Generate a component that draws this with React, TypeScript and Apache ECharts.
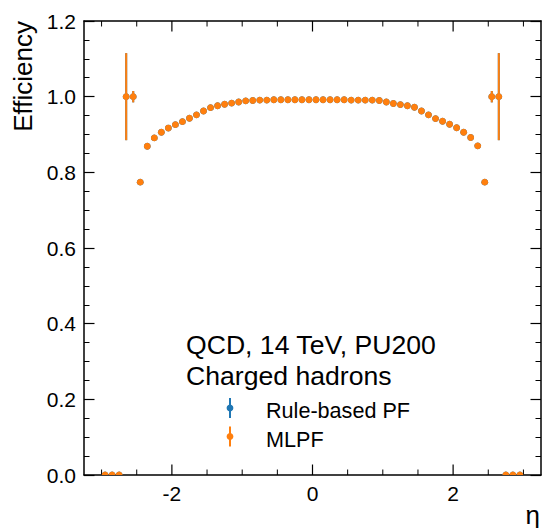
import React, { useEffect, useRef } from "react";
import * as echarts from "echarts";

// ---- data ----
const etaCenters = [
  -2.95, -2.85, -2.75, -2.65, -2.55, -2.45, -2.35, -2.25, -2.15, -2.05,
  -1.95, -1.85, -1.75, -1.65, -1.55, -1.45, -1.35, -1.25, -1.15, -1.05,
  -0.95, -0.85, -0.75, -0.65, -0.55, -0.45, -0.35, -0.25, -0.15, -0.05,
  0.05, 0.15, 0.25, 0.35, 0.45, 0.55, 0.65, 0.75, 0.85, 0.95,
  1.05, 1.15, 1.25, 1.35, 1.45, 1.55, 1.65, 1.75, 1.85, 1.95,
  2.05, 2.15, 2.25, 2.35, 2.45, 2.55, 2.65, 2.75, 2.85, 2.95,
];
const mlpfEff = [
  0, 0, 0, 1.0, 1.0, 0.774, 0.869, 0.891, 0.906, 0.917,
  0.926, 0.934, 0.943, 0.952, 0.962, 0.971, 0.976, 0.98, 0.983, 0.986,
  0.989, 0.99, 0.991, 0.991, 0.992, 0.992, 0.992, 0.992, 0.992, 0.992,
  0.992, 0.992, 0.992, 0.992, 0.992, 0.991, 0.991, 0.991, 0.991, 0.99,
  0.986, 0.982, 0.979, 0.976, 0.972, 0.962, 0.952, 0.942, 0.935, 0.927,
  0.918, 0.906, 0.892, 0.87, 0.774, 1.0, 1.0, 0, 0, 0,
];
const mlpfErr = [
  0, 0, 0, 0.115, 0.015, 0.004, 0.003, 0.003, 0.002, 0.002,
  0.002, 0.002, 0.002, 0.002, 0.002, 0.002, 0.002, 0.002, 0.002, 0.002,
  0.002, 0.002, 0.002, 0.002, 0.002, 0.002, 0.002, 0.002, 0.002, 0.002,
  0.002, 0.002, 0.002, 0.002, 0.002, 0.002, 0.002, 0.002, 0.002, 0.002,
  0.002, 0.002, 0.002, 0.002, 0.002, 0.002, 0.002, 0.002, 0.002, 0.002,
  0.002, 0.002, 0.003, 0.003, 0.004, 0.015, 0.115, 0, 0, 0,
];
// Rule-based PF is fully hidden beneath MLPF in the reference
const pfEff = mlpfEff.slice();
const pfErr = mlpfErr.slice();

const xMajorTicks = [-2, 0, 2];
const xMinorTicks = [-3, -2.5, -1.5, -1, -0.5, 0.5, 1, 1.5, 2.5, 3];
const yTickLabels = ["0.0", "0.2", "0.4", "0.6", "0.8", "1.0", "1.2"];

const seriesNames = ["Rule-based PF", "MLPF"];
const seriesColors = ["#1f77b4", "#ff7f0e"];
const annotationLines = ["QCD, 14 TeV, PU200", "Charged hadrons"];

const X_MIN = -3.25;
const X_MAX = 3.25;
const Y_MIN = 0;
const Y_MAX = 1.2;

const FONT = "'Liberation Sans', Arial, Helvetica, sans-serif";
const TICK_FONT = 21;

function errorBarSeries(name: string, color: string, eff: number[], err: number[]) {
  return {
    name,
    type: "custom",
    clip: true,
    data: etaCenters.map((x, i) => [x, eff[i], err[i]]),
    renderItem: (params: any, api: any) => {
      const x = api.value(0);
      const y = api.value(1);
      const e = api.value(2);
      const c = api.coord([x, y]);
      const lo = api.coord([x, y - e]);
      const hi = api.coord([x, y + e]);
      return {
        type: "group",
        children: [
          {
            type: "line",
            shape: { x1: c[0], y1: lo[1], x2: c[0], y2: hi[1] },
            style: { stroke: color, lineWidth: 2 },
          },
          {
            type: "circle",
            shape: { cx: c[0], cy: c[1], r: 3.4 },
            style: { fill: color },
          },
        ],
      };
    },
  };
}

export default function App() {
  const ref = useRef<HTMLDivElement>(null);
  useEffect(() => {
    if (!ref.current) return;
    const chart = echarts.init(ref.current, null, { renderer: "svg" });

    const tickData = [
      ...xMajorTicks.map((v) => [v, 1]),
      ...xMinorTicks.map((v) => [v, 0]),
    ];

    const legendChildren: any[] = [];
    seriesNames.forEach((n, i) => {
      const cy = 408 + i * 28.5;
      legendChildren.push(
        {
          type: "line",
          shape: { x1: 230, y1: cy - 10, x2: 230, y2: cy + 10 },
          style: { stroke: seriesColors[i], lineWidth: 2 },
        },
        {
          type: "circle",
          shape: { cx: 230, cy, r: 3.4 },
          style: { fill: seriesColors[i] },
        },
        {
          type: "text",
          x: 266,
          y: cy + 2.5,
          style: {
            text: n,
            fontSize: 21.6,
            fontFamily: FONT,
            fill: "#000",
            align: "left",
            verticalAlign: "middle",
          },
        }
      );
    });

    const option: any = {
      animation: false,
      backgroundColor: "#fff",
      grid: { left: 84, right: 1, top: 21, bottom: 53 },
      xAxis: [
        {
          type: "value",
          min: X_MIN,
          max: X_MAX,
          position: "bottom",
          axisLine: { show: true, onZero: false, lineStyle: { color: "#000", width: 1.5 } },
          axisTick: { show: false },
          axisLabel: { show: false },
          splitLine: { show: false },
        },
        {
          type: "value",
          min: X_MIN,
          max: X_MAX,
          position: "top",
          axisLine: { show: true, onZero: false, lineStyle: { color: "#000", width: 1.5 } },
          axisTick: { show: false },
          axisLabel: { show: false },
          splitLine: { show: false },
        },
      ],
      yAxis: [0, 1].map((k) => ({
        type: "value",
        min: Y_MIN,
        max: Y_MAX,
        interval: 0.2,
        position: k === 0 ? "left" : "right",
        axisLine: { show: true, onZero: false, lineStyle: { color: "#000", width: 1.5 } },
        axisTick: { show: true, inside: true, length: 10.5, lineStyle: { color: "#000", width: 1.2 } },
        minorTick: { show: true, splitNumber: 4, length: 5.5, lineStyle: { color: "#000", width: 1 } },
        axisLabel: {
          show: k === 0,
          fontSize: TICK_FONT,
          fontFamily: FONT,
          color: "#000",
          margin: 8,
          formatter: (v: number) => yTickLabels[Math.round(v / 0.2)] ?? v.toFixed(1),
        },
        splitLine: { show: false },
      })),
      series: [
        {
          name: "xticks",
          type: "custom",
          clip: false,
          silent: true,
          xAxisIndex: 0,
          yAxisIndex: 0,
          data: tickData,
          renderItem: (params: any, api: any) => {
            const x = api.value(0);
            const major = api.value(1) === 1;
            const pb = api.coord([x, Y_MIN]);
            const pt = api.coord([x, Y_MAX]);
            const len = major ? 10.5 : 5.5;
            const children: any[] = [
              {
                type: "line",
                shape: { x1: pb[0], y1: pb[1], x2: pb[0], y2: pb[1] - len },
                style: { stroke: "#000", lineWidth: major ? 1.2 : 1 },
              },
              {
                type: "line",
                shape: { x1: pt[0], y1: pt[1], x2: pt[0], y2: pt[1] + len },
                style: { stroke: "#000", lineWidth: major ? 1.2 : 1 },
              },
            ];
            if (major) {
              children.push({
                type: "text",
                x: pb[0],
                y: pb[1] + 8,
                style: {
                  text: String(x),
                  fontSize: TICK_FONT,
                  fontFamily: FONT,
                  fill: "#000",
                  align: "center",
                  verticalAlign: "top",
                },
              });
            }
            return { type: "group", children };
          },
        },
        errorBarSeries(seriesNames[0], seriesColors[0], pfEff, pfErr),
        errorBarSeries(seriesNames[1], seriesColors[1], mlpfEff, mlpfErr),
      ],
      graphic: [
        {
          type: "text",
          x: 23,
          y: 21,
          rotation: Math.PI / 2,
          style: {
            text: "Efficiency",
            fontSize: 26,
            fontFamily: FONT,
            fill: "#000",
            align: "right",
            verticalAlign: "middle",
          },
        },
        {
          type: "text",
          x: 540,
          y: 514.5,
          style: {
            text: "η",
            fontSize: 26,
            fontFamily: FONT,
            fill: "#000",
            align: "right",
            verticalAlign: "middle",
          },
        },
        ...annotationLines.map((t, i) => ({
          type: "text",
          x: 186,
          y: 345 + i * 31,
          style: {
            text: t,
            fontSize: 26.6,
            fontFamily: FONT,
            fill: "#000",
            align: "left",
            verticalAlign: "middle",
          },
        })),
        { type: "group", children: legendChildren },
      ],
    };
    chart.setOption(option);
    return () => chart.dispose();
  }, []);
  return (
    <div
      ref={ref}
      style={{ position: "absolute", left: 0, top: 0, width: 542, height: 528 }}
    />
  );
}
